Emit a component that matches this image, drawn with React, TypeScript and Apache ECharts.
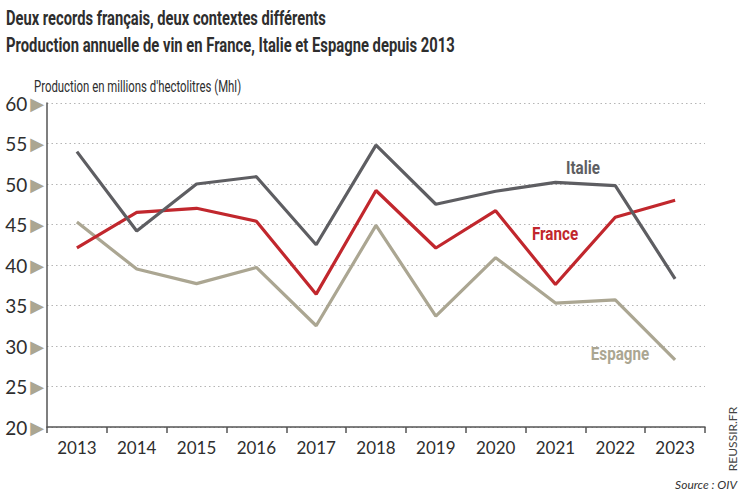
import React, { useEffect, useRef } from "react";
import * as echarts from "echarts";

const years = ["2013", "2014", "2015", "2016", "2017", "2018", "2019", "2020", "2021", "2022", "2023"];
const italie = [54.0, 44.2, 50.0, 50.9, 42.5, 54.8, 47.5, 49.1, 50.2, 49.8, 38.3];
const france = [42.1, 46.5, 47.0, 45.4, 36.4, 49.2, 42.1, 46.7, 37.6, 45.9, 48.0];
const espagne = [45.3, 39.5, 37.7, 39.7, 32.5, 44.9, 33.7, 40.9, 35.3, 35.7, 28.3];

const title1 = "Deux records français, deux contextes différents";
const title2 = "Production annuelle de vin en France, Italie et Espagne depuis 2013";
const unitLabel = "Production en millions d'hectolitres (Mhl)";

const C_IT = "#5e5e62";
const C_FR = "#c1272d";
const C_ES = "#aba692";
const COND = "Roboto, sans-serif";
const BODY = "Lato, 'Open Sans', sans-serif";

export default function App() {
  const ref = useRef<HTMLDivElement>(null);
  useEffect(() => {
    if (!ref.current) return;
    const chart = echarts.init(ref.current, undefined, { renderer: "svg" });
    const line = (name: string, data: number[], color: string) => ({
      name,
      type: "line",
      data,
      symbol: "none",
      lineStyle: { color, width: 3.2 },
      itemStyle: { color },
    });
    const txt = (text: string, x: number, y: number, font: string, fill: string, sx: number, align = "left") => ({
      type: "text",
      x,
      y,
      scaleX: sx,
      style: { text, font, fill, align, verticalAlign: "middle" },
    });
    chart.setOption({
      animation: false,
      backgroundColor: "#ffffff",
      grid: { left: 47, right: 42, top: 103, bottom: 68 },
      xAxis: {
        type: "category",
        data: years,
        boundaryGap: true,
        axisLine: { lineStyle: { color: "#555", width: 1.5 } },
        axisTick: { show: true, length: 6, lineStyle: { color: "#555", width: 1.5 } },
        axisLabel: { color: "#2e2e2e", fontSize: 17, fontFamily: BODY, margin: 12 },
      },
      yAxis: {
        type: "value",
        min: 20,
        max: 60,
        interval: 5,
        axisLine: { show: true, lineStyle: { color: "#555", width: 1.5 } },
        axisTick: { show: false },
        splitLine: { lineStyle: { color: "#b5b5b5", type: [1.5, 3], width: 1 } },
        axisLabel: {
          margin: 3,
          formatter: (v: number) => `{v|${v}}{t|▶}`,
          rich: {
            v: { fontSize: 19, color: "#2e2e2e", fontFamily: BODY, padding: [0, 3, 0, 0] },
            t: { fontSize: 18, color: C_ES, fontFamily: "DejaVu Sans" },
          },
        },
      },
      series: [line("Espagne", espagne, C_ES), line("France", france, C_FR), line("Italie", italie, C_IT)],
      graphic: [
        txt(title1, 6, 17, `bold 21px ${COND}`, "#2e2e2e", 0.7),
        txt(title2, 6, 44, `bold 21px ${COND}`, "#2e2e2e", 0.705),
        txt(unitLabel, 34, 87, `17px ${COND}`, "#2e2e2e", 0.67),
        txt("Italie", 583, 167, `bold 19px ${COND}`, C_IT, 0.8, "center"),
        txt("France", 555, 233, `bold 19px ${COND}`, C_FR, 0.8, "center"),
        txt("Espagne", 620, 353, `bold 19px ${COND}`, C_ES, 0.8, "center"),
        { type: "text", x: 732, y: 439, rotation: Math.PI / 2, style: { text: "REUSSIR.FR", font: `12px ${BODY}`, fill: "#444", align: "center", verticalAlign: "middle" } },
        { type: "text", x: 737, y: 484, style: { text: "Source : OIV", font: `italic 12px ${BODY}`, fill: "#333", align: "right", verticalAlign: "middle" } },
      ],
    });
    return () => chart.dispose();
  }, []);
  return <div ref={ref} style={{ position: "absolute", left: 0, top: 0, width: 747, height: 495 }} />;
}
